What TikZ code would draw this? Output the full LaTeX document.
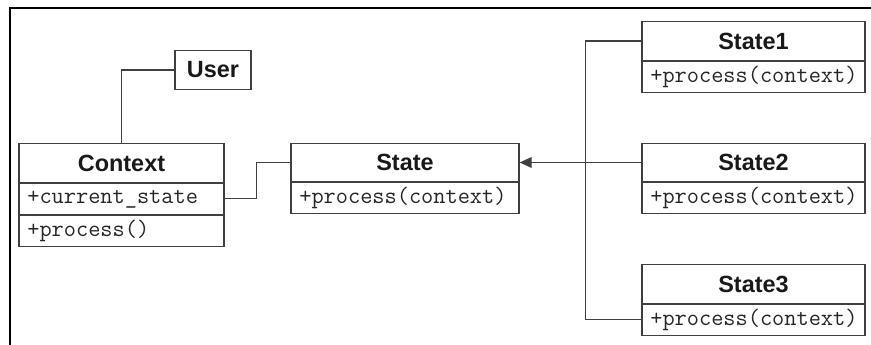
\documentclass[tikz,border=0pt]{standalone}
\usepackage{fontspec}
\setsansfont{Liberation Sans}
\usetikzlibrary{positioning,arrows.meta}

\begin{document}
\begin{tikzpicture}[
    x=0.03cm, y=-0.03cm,
    title/.style={draw=black!75,line width=1pt,minimum width=#1,minimum height=1.15cm,inner sep=0pt,
        font=\sffamily\bfseries\fontsize{20}{24}\selectfont,text=black!90},
    row/.style={draw=black!75,line width=1pt,text width=#1,minimum height=0.93cm,inner xsep=0.25cm,
        inner ysep=0pt,align=left,font=\ttfamily\fontsize{20.2}{22}\selectfont,text=black!85},
    line/.style={black!75,line width=1pt},
    frame/.style={black,line width=2.2pt}
]
    \useasboundingbox (0,0) rectangle (871,345);

    % Frame on two sides
    \draw[frame] (10,345) -- (10,8) -- (871,8);

    % Context and its user
    \node[title=2.28cm] (user) at (213,70) {User};
    \node[title=6.15cm] (context) at (121.5,163) {Context};
    \node[row=5.65cm,below=0pt of context] (cstate) {+current\_state};
    \node[row=5.65cm,below=0pt of cstate] (cproc) {+process()};

    \draw[line] (context.north) |- (user.west);

    %%%%%%%%%%%%%%%%%%%%%%%%%%%%%%%%%%%%%%%%%%%%%%%%%%%%%%%%%%%%%%%%%%%%%%%%%%%%%%%%

    % Abstract state
    \node[title=6.84cm] (state) at (405,162.5) {State};
    \node[row=6.34cm,below=0pt of state] (sproc) {+process(context)};

    \draw[line] (cstate.east) -| ([xshift=-1.02cm]state.west) -- (state.west);

    %%%%%%%%%%%%%%%%%%%%%%%%%%%%%%%%%%%%%%%%%%%%%%%%%%%%%%%%%%%%%%%%%%%%%%%%%%%%%%%%

    % Concrete states
    \foreach \i/\y in {1/41, 2/162.5, 3/284} {
        \node[title=6.69cm] (state\i) at (753.5,\y) {State\i};
        \node[row=6.19cm,below=0pt of state\i] (proc\i) {+process(context)};
    }

    \draw[line] (state1.west) -- ++(-1.68cm,0) |- (proc3.west);
    \draw[line,-{Triangle[length=0.36cm,width=0.32cm]}] (state2.west) -- (state.east);
\end{tikzpicture}
\end{document}
